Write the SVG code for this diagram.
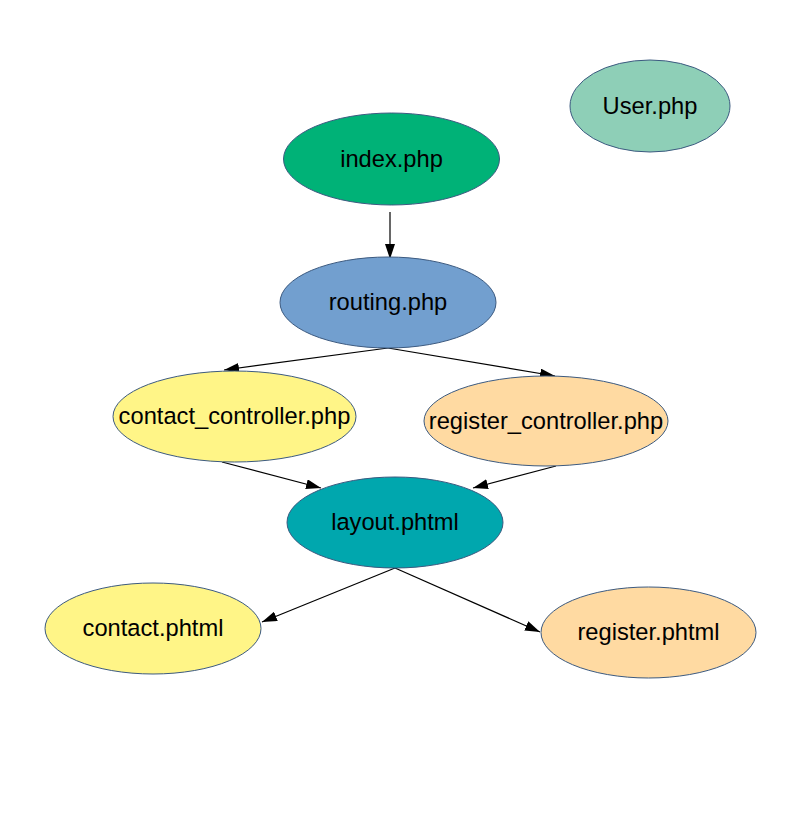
<svg xmlns="http://www.w3.org/2000/svg" width="794" height="832" viewBox="0 0 794 832">
<defs>
<style>
.n ellipse{stroke:#3c5a80;stroke-width:1}
.n text{font-family:"Liberation Sans",Arial,sans-serif;font-size:23.7px;fill:#000;text-anchor:middle}
.e line{stroke:#000;stroke-width:1.2;fill:none}
</style>
<marker id="ah" viewBox="0 0 15 10" refX="15" refY="5" markerWidth="15" markerHeight="10" markerUnits="userSpaceOnUse" orient="auto">
<path d="M0,0 L15,5 L0,10 Z" fill="#000"/>
</marker>
</defs>
<rect width="794" height="832" fill="#fff"/>
<g id="edges" class="e">
<line x1="390" y1="212" x2="390" y2="259" marker-end="url(#ah)"/>
<line x1="388" y1="348" x2="224" y2="370" marker-end="url(#ah)"/>
<line x1="388" y1="348" x2="555" y2="376" marker-end="url(#ah)"/>
<line x1="222" y1="462" x2="321" y2="488" marker-end="url(#ah)"/>
<line x1="556" y1="466" x2="473" y2="488" marker-end="url(#ah)"/>
<line x1="395" y1="568" x2="262" y2="622" marker-end="url(#ah)"/>
<line x1="395" y1="568" x2="540" y2="632" marker-end="url(#ah)"/>
</g>
<g id="user" class="n"><ellipse cx="650" cy="106" rx="80" ry="46" fill="#8ecfb7"/><text x="650" y="114">User.php</text></g>
<g id="index" class="n"><ellipse cx="391.5" cy="159" rx="108" ry="46" fill="#00b277"/><text x="391.5" y="167">index.php</text></g>
<g id="routing" class="n"><ellipse cx="388" cy="302.5" rx="108" ry="45.5" fill="#729fcf"/><text x="388" y="310">routing.php</text></g>
<g id="contact_controller" class="n"><ellipse cx="234.5" cy="416.5" rx="121.5" ry="45.5" fill="#fff587"/><text x="234.5" y="424">contact_controller.php</text></g>
<g id="register_controller" class="n"><ellipse cx="546" cy="421" rx="122" ry="45" fill="#ffdaa2"/><text x="546" y="429">register_controller.php</text></g>
<g id="layout" class="n"><ellipse cx="395" cy="522.5" rx="108" ry="45.5" fill="#00a7ae"/><text x="395" y="530">layout.phtml</text></g>
<g id="contact" class="n"><ellipse cx="153" cy="628.5" rx="108" ry="45.5" fill="#fff587"/><text x="153" y="636">contact.phtml</text></g>
<g id="register" class="n"><ellipse cx="648.5" cy="632.5" rx="107.5" ry="45.5" fill="#ffdaa2"/><text x="648.5" y="640">register.phtml</text></g>
</svg>
